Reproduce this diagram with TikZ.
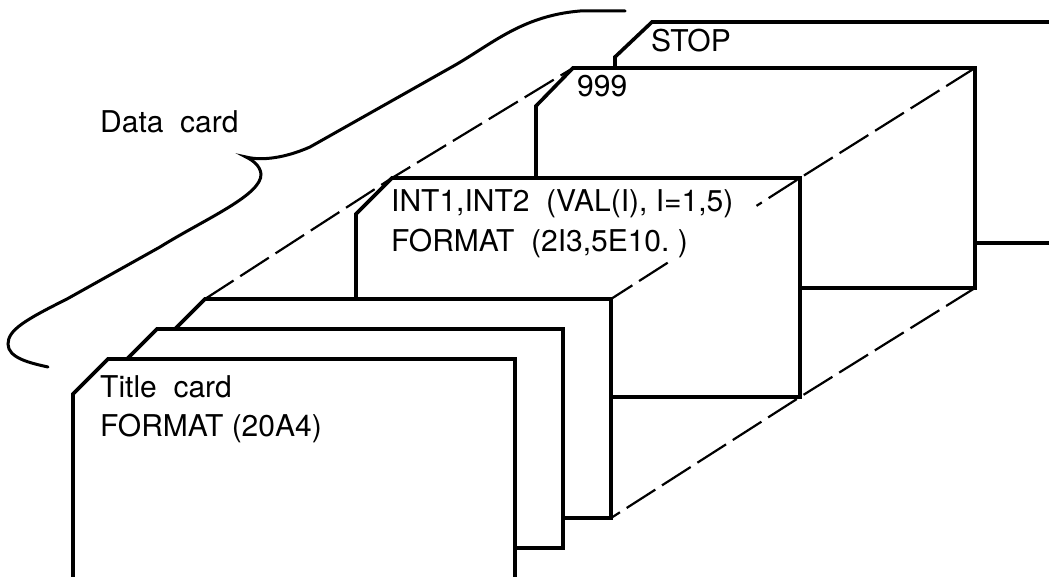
\documentclass[tikz,border=0pt]{standalone}
\usepackage{fontspec}
\setmainfont{TeX Gyre Heros}
\usetikzlibrary{calc}

\begin{document}
\begin{tikzpicture}[x=1pt, y=-1pt,
    karte/.style={line width=3.6pt, fill=white, line join=miter},
    kante/.style={line width=2.2pt, dash pattern=on 34pt off 8pt},
    klammer/.style={line width=3pt, line cap=round},
    schrift/.style={font=\fontsize{30}{36}\selectfont, inner sep=0pt, anchor=base west}]
    \fill[white] (0,0) rectangle (1049,577);
    \useasboundingbox (0,0) rectangle (1049,577);
    \clip (0,0) rectangle (1049,577);
    % Ecken der Karten:
    \coordinate (k3lo) at (205,299); % dritte Karte links oben
    \coordinate (k3ro) at (611,299); % dritte Karte rechts oben
    \coordinate (k3ru) at (611,518); % dritte Karte rechts unten
    \coordinate (k4lo) at (392,178);
    \coordinate (k4ro) at (800,178);
    \coordinate (k4ru) at (800,397);
    \coordinate (k5lo) at (573,68);
    \coordinate (k5ro) at (975,68);
    \coordinate (k5ru) at (975,288);
    % Karten, von hinten nach vorne:
    \draw[karte] (615,243) -- (615,57) -- (652,22) -- (1070,22) -- (1070,243) -- cycle; % STOP
    \draw[karte] (536,288) -- (536,106) -- (k5lo) -- (k5ro) -- (k5ru) -- cycle; % 999
    \draw[karte] (356,397) -- (356,214) -- (k4lo) -- (k4ro) -- (k4ru) -- cycle; % INT1,INT2
    \draw[karte] (169,518) -- (169,335) -- (k3lo) -- (k3ro) -- (k3ru) -- cycle; % dritte Karte
    \draw[karte] (121,548) -- (121,365) -- (157,329) -- (563,329) -- (563,548) -- cycle; % zweite Karte
    \draw[karte] (73,600) -- (73,394) -- (108,359) -- (515,359) -- (515,600) -- cycle; % Titelkarte
    % verdeckte Kanten:
    \draw[kante] (k3lo) -- (k4lo) -- (k5lo);
    \draw[kante] (k5ro) -- (k4ro) -- ($(k4ro)!0.23!(k3ro)$);
    \draw[kante] ($(k4ro)!0.70!(k3ro)$) -- (k3ro);
    \draw[kante] (k5ru) -- (k4ru) -- (k3ru);
    % Klammer:
    \draw[klammer] (48,367) .. controls (30,363) and (8,358) .. (8,344)
        .. controls (8,330) and (25,320) .. (67,299) -- (160,247)
        .. controls (205,219) and (262,195) .. (261,174)
        .. controls (260,165) and (252,160) .. (246,157)
        .. controls (262,161) and (285,158) .. (310,147) -- (450,68)
        .. controls (490,46) and (520,16) .. (580,11) -- (625,11);
    % Texte:
    \node[schrift] (datenkarte) at (100,133) {Data~~card};
    \node[schrift] (titel) at (100,397) {Title~~card};
    \node[schrift] (titelformat) at (100,436) {FORMAT (20A4)};
    \node[schrift] (intzeile) at (391,212) {INT1,INT2~~(VAL(I), I=1,5)};
    \node[schrift] (intformat) at (391,252) {FORMAT~~(2I3,5E10.~)};
    \node[schrift] (neun) at (577,97) {999};
    \node[schrift] (stop) at (651,52) {STOP};
\end{tikzpicture}
\end{document}
